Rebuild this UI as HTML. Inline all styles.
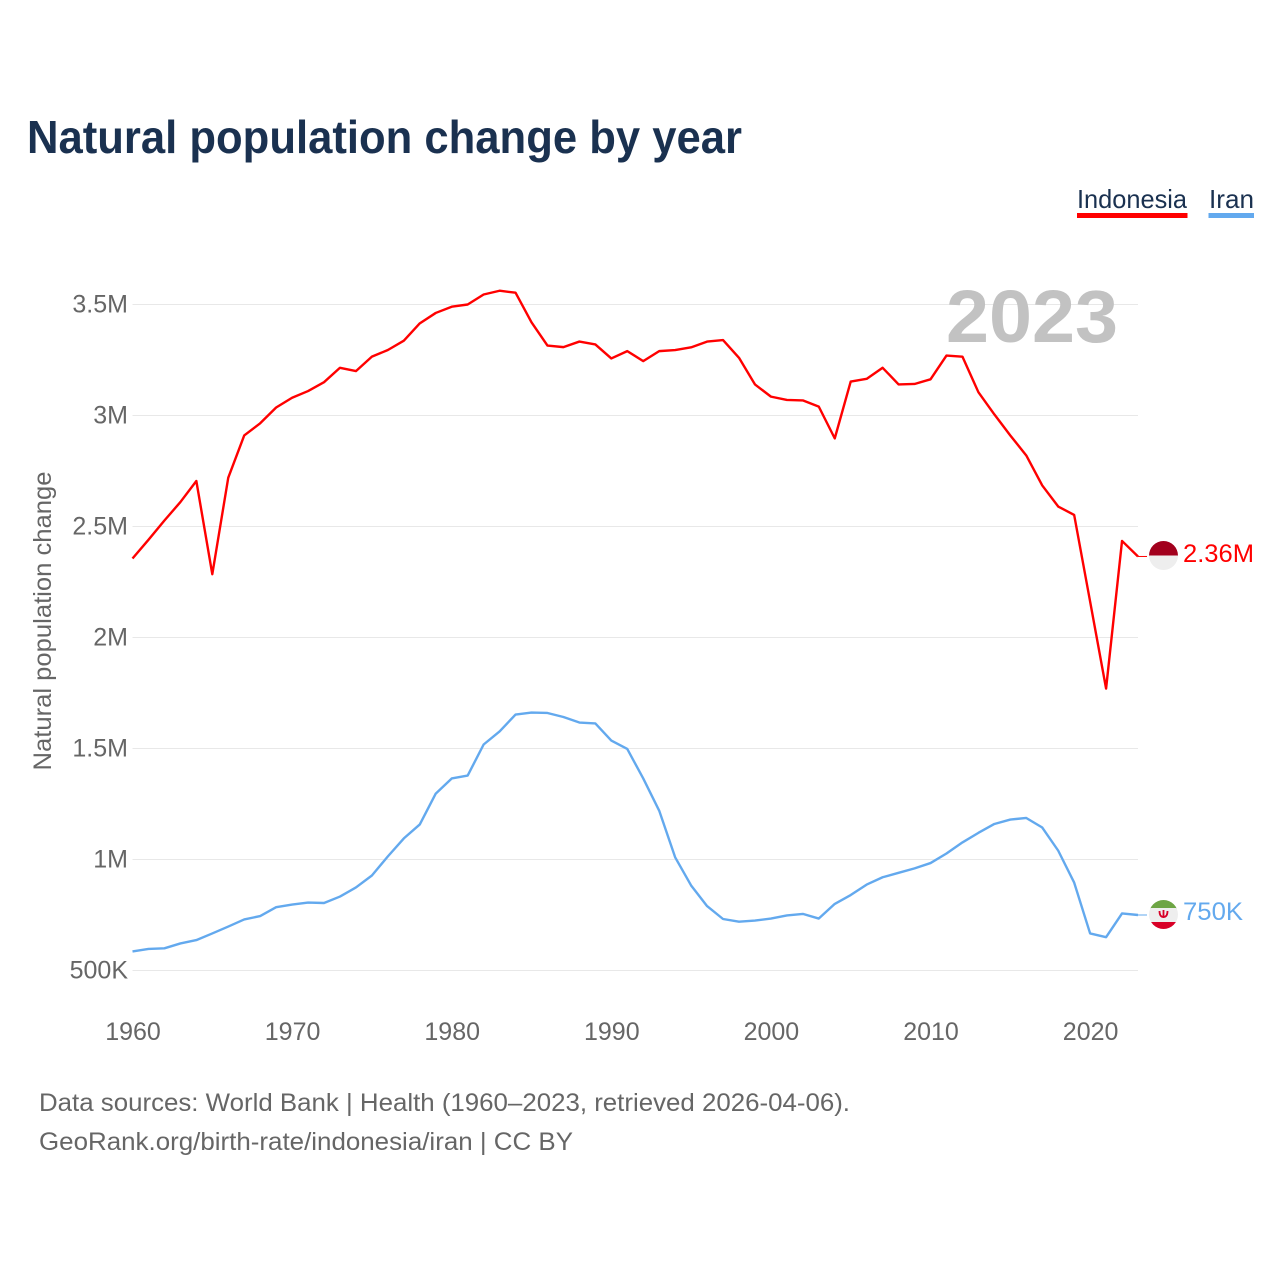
<!DOCTYPE html>
<html lang="en">
<head>
<meta charset="utf-8">
<title>Natural population change by year</title>
<style>
html,body{margin:0;padding:0;background:#fff;width:1280px;height:1280px;overflow:hidden}
svg{display:block;font-family:"Liberation Sans",sans-serif}
</style>
</head>
<body>
<svg id="chart" width="1280" height="1280" viewBox="0 0 1280 1280" xmlns="http://www.w3.org/2000/svg">
<defs>
<clipPath id="clip-id"><circle cx="1163.5" cy="555.5" r="14.5"/></clipPath>
<clipPath id="clip-ir"><circle cx="1163.5" cy="914.5" r="14.5"/></clipPath>
</defs>
<text x="27" y="153" font-size="46" font-weight="700" fill="#1a3150" textLength="715" lengthAdjust="spacingAndGlyphs">Natural population change by year</text>
<text x="1077" y="208" font-size="26" fill="#1a3150" textLength="110" lengthAdjust="spacingAndGlyphs">Indonesia</text>
<rect x="1077" y="213" width="110.500" height="5" fill="#ff0000"/>
<text x="1209" y="208" font-size="26" fill="#1a3150" textLength="45" lengthAdjust="spacingAndGlyphs">Iran</text>
<rect x="1208.500" y="213" width="45.500" height="5" fill="#63a9ee"/>
<g id="grid"></g>
<text x="946" y="342" font-size="74" font-weight="700" fill="#c2c2c2" textLength="172" lengthAdjust="spacingAndGlyphs">2023</text>
<g id="yticks"></g>
<g id="xticks"></g>
<text transform="translate(51 770.500) rotate(-90)" font-size="25" fill="#666666" textLength="299" lengthAdjust="spacingAndGlyphs">Natural population change</text>
<g id="series"></g>
<g clip-path="url(#clip-id)">
<rect x="1149" y="541" width="29" height="14.500" fill="#a2001d"/>
<rect x="1149" y="555.500" width="29" height="14.500" fill="#eeeeee"/>
</g>
<g clip-path="url(#clip-ir)">
<rect x="1149" y="900" width="29" height="9" fill="#6da544"/>
<rect x="1149" y="908" width="29" height="14" fill="#eeeeee"/>
<rect x="1149" y="922" width="29" height="8" fill="#d80027"/>
<path d="M1159.500 911c0 4 1.500 6 4 6s4-2 4-6M1163.500 910v8" fill="none" stroke="#d80027" stroke-width="1.800"/>
</g>
<text x="1183" y="562" font-size="25" fill="#ff0000" textLength="71" lengthAdjust="spacingAndGlyphs">2.36M</text>
<text x="1183" y="920" font-size="25" fill="#63a9ee" textLength="60" lengthAdjust="spacingAndGlyphs">750K</text>
<text x="39" y="1111" font-size="25" fill="#666666" textLength="811" lengthAdjust="spacingAndGlyphs">Data sources: World Bank | Health (1960–2023, retrieved 2026-04-06).</text>
<text x="39" y="1150" font-size="25" fill="#666666" textLength="534" lengthAdjust="spacingAndGlyphs">GeoRank.org/birth-rate/indonesia/iran | CC BY</text>
</svg>
<script>
const years = [1960,1961,1962,1963,1964,1965,1966,1967,1968,1969,1970,1971,1972,1973,1974,1975,1976,1977,1978,1979,1980,1981,1982,1983,1984,1985,1986,1987,1988,1989,1990,1991,1992,1993,1994,1995,1996,1997,1998,1999,2000,2001,2002,2003,2004,2005,2006,2007,2008,2009,2010,2011,2012,2013,2014,2015,2016,2017,2018,2019,2020,2021,2022,2023];
const indonesia = [2.356,2.44,2.527,2.61,2.705,2.285,2.72,2.91,2.965,3.036,3.08,3.11,3.15,3.215,3.20,3.265,3.295,3.337,3.415,3.462,3.49,3.50,3.545,3.562,3.553,3.42,3.315,3.308,3.333,3.32,3.257,3.29,3.245,3.29,3.295,3.307,3.333,3.34,3.26,3.14,3.085,3.07,3.068,3.04,2.897,3.153,3.165,3.215,3.14,3.142,3.163,3.27,3.265,3.105,3.005,2.91,2.82,2.685,2.59,2.552,2.162,1.77,2.435,2.365];
const iran = [0.586,0.597,0.60,0.622,0.637,0.667,0.698,0.73,0.745,0.785,0.797,0.806,0.804,0.833,0.874,0.928,1.014,1.095,1.158,1.297,1.365,1.378,1.518,1.577,1.653,1.662,1.66,1.642,1.617,1.613,1.536,1.498,1.365,1.22,1.01,0.883,0.79,0.732,0.72,0.725,0.734,0.748,0.755,0.734,0.80,0.84,0.887,0.92,0.94,0.96,0.984,1.027,1.077,1.12,1.16,1.18,1.187,1.144,1.04,0.896,0.667,0.65,0.757,0.75];
const yTickValues = [0.5,1,1.5,2,2.5,3,3.5];
const yTickLabels = ["500K","1M","1.5M","2M","2.5M","3M","3.5M"];
const xTickValues = [1960,1970,1980,1990,2000,2010,2020];

const NS = "http://www.w3.org/2000/svg";
const xScale = function (year) { return 132.5 + (year - 1960) * (1138 - 132.5) / 63; };
const yScale = function (v) { return 970.5 - (v - 0.5) * 222; };

const gridGroup = document.getElementById("grid");
const yGroup = document.getElementById("yticks");
const xGroup = document.getElementById("xticks");
const seriesGroup = document.getElementById("series");

yTickValues.forEach(function (v, i) {
  const line = document.createElementNS(NS, "line");
  
  
  line.setAttribute("x1", xScale(1960));
  line.setAttribute("x2", xScale(2023));
  line.setAttribute("y1", yScale(v));
  line.setAttribute("y2", yScale(v));
  line.setAttribute("stroke", "#e8e8e8");
  line.setAttribute("stroke-width", "1");
  gridGroup.appendChild(line);

  const label = document.createElementNS(NS, "text");
  
  
  label.setAttribute("x", 128);
  label.setAttribute("y", yScale(v) + 8);
  label.setAttribute("text-anchor", "end");
  label.setAttribute("font-size", "25");
  label.setAttribute("fill", "#666666");
  label.textContent = yTickLabels[i];
  yGroup.appendChild(label);
});

xTickValues.forEach(function (year) {
  const label = document.createElementNS(NS, "text");
  
  
  label.setAttribute("x", xScale(year) + 0.5);
  label.setAttribute("y", 1040);
  label.setAttribute("text-anchor", "middle");
  label.setAttribute("font-size", "25");
  label.setAttribute("fill", "#666666");
  label.textContent = String(year);
  xGroup.appendChild(label);
});

function pointsFor(values) {
  return values.map(function (v, i) {
    return xScale(years[i]).toFixed(2) + "," + yScale(v).toFixed(2);
  }).join(" ");
}

const indonesiaLine = document.createElementNS(NS, "polyline");


indonesiaLine.setAttribute("points", pointsFor(indonesia));
indonesiaLine.setAttribute("fill", "none");
indonesiaLine.setAttribute("stroke", "#ff0000");
indonesiaLine.setAttribute("stroke-width", "2.4");
indonesiaLine.setAttribute("stroke-linejoin", "round");
seriesGroup.appendChild(indonesiaLine);

const iranLine = document.createElementNS(NS, "polyline");


iranLine.setAttribute("points", pointsFor(iran));
iranLine.setAttribute("fill", "none");
iranLine.setAttribute("stroke", "#63a9ee");
iranLine.setAttribute("stroke-width", "2.4");
iranLine.setAttribute("stroke-linejoin", "round");
seriesGroup.appendChild(iranLine);

const indonesiaLeader = document.createElementNS(NS, "line");


indonesiaLeader.setAttribute("x1", xScale(2023));
indonesiaLeader.setAttribute("x2", xScale(2023) + 9);
indonesiaLeader.setAttribute("y1", yScale(indonesia[indonesia.length - 1]));
indonesiaLeader.setAttribute("y2", yScale(indonesia[indonesia.length - 1]));
indonesiaLeader.setAttribute("stroke", "#ff0000");
indonesiaLeader.setAttribute("stroke-width", "1");
seriesGroup.appendChild(indonesiaLeader);

const iranLeader = document.createElementNS(NS, "line");


iranLeader.setAttribute("x1", xScale(2023));
iranLeader.setAttribute("x2", xScale(2023) + 9);
iranLeader.setAttribute("y1", yScale(iran[iran.length - 1]));
iranLeader.setAttribute("y2", yScale(iran[iran.length - 1]));
iranLeader.setAttribute("stroke", "#63a9ee");
iranLeader.setAttribute("stroke-width", "1");
seriesGroup.appendChild(iranLeader);
</script>
</body>
</html>
